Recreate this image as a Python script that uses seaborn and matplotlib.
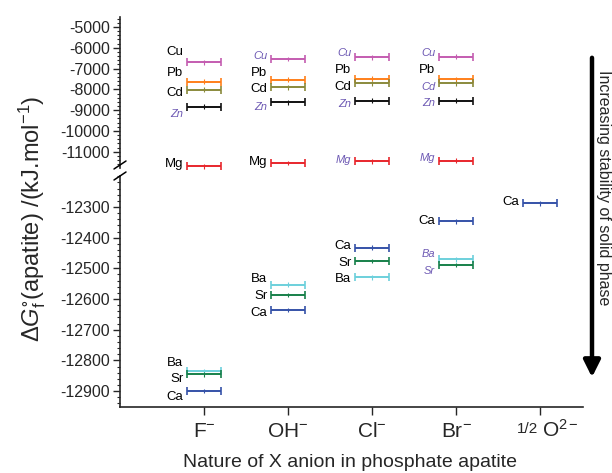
import numpy as np
import pandas as pd
import seaborn as sns
import matplotlib
matplotlib.use("Agg")
import matplotlib.pyplot as plt
from matplotlib.ticker import MultipleLocator
from matplotlib.lines import Line2D
from matplotlib.patches import FancyArrowPatch

# ---------------- data ----------------
anions = ["F", "OH", "Cl", "Br", "O"]
anion_labels = [r"F$^{\mathregular{-}}$", r"OH$^{\mathregular{-}}$", r"Cl$^{\mathregular{-}}$",
                r"Br$^{\mathregular{-}}$", ""]
nan = np.nan
# upper (broken) range, kJ/mol
Cu = [-6690, -6536, -6454, -6426, nan]
Pb = [-7626, -7544, -7496, -7510, nan]
Cd = [-8024, -7894, -7702, -7702, nan]
Zn = [-8840, -8614, -8538, -8538, nan]
Mg = [-11706, -11542, -11466, -11432, nan]
# lower range
Ba = [-12835, -12554, -12529, -12470, nan]
Sr = [-12845, -12587, -12476, -12489, nan]
Ca = [-12900, -12636, -12433, -12346, -12288]

top_series = {"Cu": Cu, "Pb": Pb, "Cd": Cd, "Zn": Zn, "Mg": Mg}
bot_series = {"Ba": Ba, "Sr": Sr, "Ca": Ca}

colors = {"Cu": "#c45cb0", "Pb": "#ff7f1a", "Cd": "#8a8a3c", "Zn": "#111111",
          "Mg": "#e8262c", "Ba": "#6cd0dc", "Sr": "#17804a", "Ca": "#3552a8"}

# labels drawn in italic purple (element, anion)
italic_labels = {("Zn", "F"), ("Cu", "OH"), ("Zn", "OH"), ("Cu", "Cl"), ("Zn", "Cl"),
                 ("Mg", "Cl"), ("Cu", "Br"), ("Cd", "Br"), ("Zn", "Br"), ("Mg", "Br"),
                 ("Ba", "Br"), ("Sr", "Br")}
# vertical label offsets from bar (pixels, + = up)
label_dy = {
    ("Cu", "F"): 10.6, ("Pb", "F"): 8.7, ("Cd", "F"): -3, ("Zn", "F"): -7.3, ("Mg", "F"): 2,
    ("Cu", "OH"): 3, ("Pb", "OH"): 7.3, ("Cd", "OH"): -2, ("Zn", "OH"): -4.4, ("Mg", "OH"): 0.6,
    ("Cu", "Cl"): 4, ("Pb", "Cl"): 9, ("Cd", "Cl"): -3.4, ("Zn", "Cl"): -3.3, ("Mg", "Cl"): 1,
    ("Cu", "Br"): 3.4, ("Pb", "Br"): 9.3, ("Cd", "Br"): -4, ("Zn", "Br"): -2.6, ("Mg", "Br"): 2.7,
    ("Ba", "F"): 8.3, ("Sr", "F"): -4.7, ("Ca", "F"): -5.7,
    ("Ba", "OH"): 6, ("Sr", "OH"): -1, ("Ca", "OH"): -3,
    ("Ca", "Cl"): 1.7, ("Sr", "Cl"): -1.7, ("Ba", "Cl"): -2,
    ("Ca", "Br"): 0, ("Ba", "Br"): 5.3, ("Sr", "Br"): -6,
    ("Ca", "O"): 1.6,
}

# ---------------- style ----------------
sns.set_style("ticks")
plt.rcParams["font.family"] = ["Liberation Sans", "DejaVu Sans"]
plt.rcParams["mathtext.fontset"] = "custom"
plt.rcParams["mathtext.rm"] = "Liberation Sans"
plt.rcParams["mathtext.it"] = "Liberation Sans:italic"
plt.rcParams["mathtext.bf"] = "Liberation Sans:bold"
plt.rcParams["axes.unicode_minus"] = False

W, H = 612, 473
fig = plt.figure(figsize=(W / 100, H / 100), dpi=100)

def fx(px):
    return px / W

def fy(py):
    return 1 - py / H

left, right = 120, 583
ax_top = fig.add_axes([fx(left), fy(168), fx(right - left), fy(17) - fy(168)])
ax_bot = fig.add_axes([fx(left), fy(407), fx(right - left), fy(176) - fy(407)])

PURPLE = "#6e5ab4"
xpos = np.arange(1, len(anions) + 1)
HALF = 0.2
PX2PT = 0.72

def draw(ax, series):
    rows = []
    for el, vals in series.items():
        for a, x, v in zip(anions, xpos, vals):
            if not np.isnan(v):
                rows.append({"element": el, "anion": a, "x": x, "G": v})
    df = pd.DataFrame(rows)
    for el, sub in df.groupby("element", sort=False):
        ax.errorbar(sub["x"], sub["G"], xerr=HALF, fmt="none", ecolor=colors[el],
                    elinewidth=1.4, capsize=3.2, capthick=1.2, clip_on=False, zorder=3)
    sns.scatterplot(data=df, x="x", y="G", hue="element", palette=colors, marker="|",
                    s=12, linewidth=0.8, legend=False, ax=ax, zorder=4, clip_on=False)
    for _, r in df.iterrows():
        key = (r["element"], r["anion"])
        it = key in italic_labels
        ax.annotate(r["element"], xy=(r["x"] - HALF, r["G"]),
                    xytext=(-4 * PX2PT, label_dy[key] * PX2PT), textcoords="offset points",
                    ha="right", va="center",
                    fontsize=8.0 if it else 9.5,
                    style="italic" if it else "normal",
                    color=PURPLE if it else "black", annotation_clip=False)

draw(ax_top, top_series)
draw(ax_bot, bot_series)

for ax in (ax_top, ax_bot):
    ax.set_xlim(0, 5.51)
    ax.set_xlabel("")
    ax.set_ylabel("")
    for s in ("top", "right"):
        ax.spines[s].set_visible(False)
    ax.spines["left"].set_linewidth(1.2)
    ax.tick_params(axis="y", which="major", direction="out", length=5, width=1,
                   labelsize=11.5, pad=2)
    ax.tick_params(axis="y", which="minor", direction="out", length=2.5, width=0.8)
    ax.patch.set_alpha(0)

ax_top.set_ylim(-11780, -4520)
ax_top.set_yticks(np.arange(-11000, -4999, 1000))
ax_top.yaxis.set_minor_locator(MultipleLocator(200))
ax_top.spines["bottom"].set_visible(False)
ax_top.set_xticks([])

ax_bot.set_ylim(-12952, -12199)
ax_bot.set_yticks(np.arange(-12900, -12299, 100))
ax_bot.yaxis.set_minor_locator(MultipleLocator(20))
ax_bot.spines["bottom"].set_linewidth(1.2)
ax_bot.set_xticks(xpos)
ax_bot.set_xticklabels(anion_labels, fontsize=15)
ax_bot.tick_params(axis="x", direction="out", length=6, width=1, pad=5)

# 1/2 O2- label
ax_bot.annotate("1/2", xy=(5, 0), xycoords=("data", "axes fraction"),
                xytext=(-1.5, -11), textcoords="offset points", ha="right", va="top",
                fontsize=11)
ax_bot.annotate(r"O$^{\mathregular{2-}}$", xy=(5, 0), xycoords=("data", "axes fraction"),
                xytext=(1.5, -8.6), textcoords="offset points", ha="left", va="top",
                fontsize=15)

# break marks
for cy in (165, 176):
    fig.add_artist(Line2D([fx(114), fx(126)], [fy(cy + 4), fy(cy - 4)],
                          color="black", lw=1.1, transform=fig.transFigure))

# axis titles
fig.text(fx(32), fy(219),
         r"$\Delta G^{\mathregular{\circ}}_{\mathregular{f}}$(apatite) /(kJ.mol$^{\mathregular{-1}}$)",
         rotation=90, ha="center", va="center", fontsize=17)
fig.text(fx(350), fy(462), "Nature of X anion in phosphate apatite",
         ha="center", va="center", fontsize=14)

# stability arrow
fig.add_artist(FancyArrowPatch(
    (fx(592), fy(55)), (fx(592), fy(380)), transform=fig.transFigure,
    arrowstyle="-|>,head_width=5,head_length=10", lw=3.2, color="black",
    mutation_scale=1))
fig.text(fx(604), fy(188), "Increasing stability of solid phase", rotation=-90,
         ha="center", va="center", fontsize=11.5)

fig.savefig("out.png", dpi=100)
